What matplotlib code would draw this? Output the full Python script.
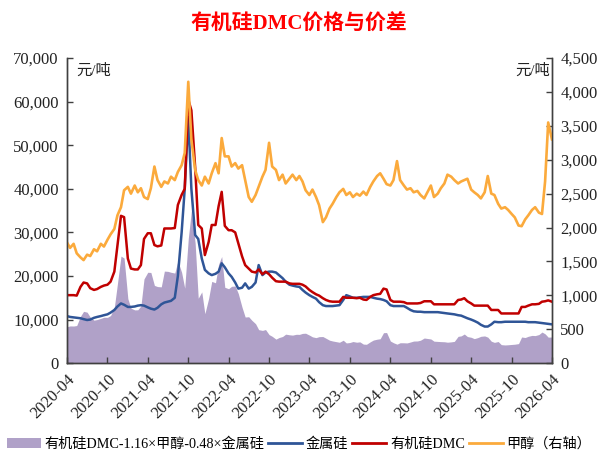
import matplotlib
matplotlib.use("Agg")
import matplotlib.pyplot as plt
import matplotlib.patches as mpatches
import matplotlib.lines as mlines
from matplotlib.ticker import MultipleLocator, FuncFormatter
import numpy as np
import pandas as pd

plt.rcParams['font.family'] = ['Liberation Serif', 'Noto Sans CJK SC']

# semi-monthly observations, 2020-04 .. 2026-04
dates = pd.date_range('2020-04-01', '2026-04-01', freq='SMS')

# 甲醇 (元/吨, right axis)
methanol = [
    1780, 1700, 1760, 1620, 1560, 1520, 1600, 1580, 1680, 1650, 1760, 1720,
    1820, 1900, 1980, 2180, 2300, 2550, 2600, 2500, 2620, 2520, 2580, 2450,
    2420, 2580, 2900, 2700, 2600, 2680, 2650, 2750, 2700, 2820, 2920, 3100,
    4150, 3300, 2850, 2700, 2620, 2750, 2650, 2800, 2950, 2800, 3320, 3050,
    3050, 2900, 2950, 2870, 2920, 2700, 2450, 2380, 2480, 2600, 2750, 2850,
    3250, 2900, 2850, 2700, 2780, 2650, 2720, 2780, 2700, 2760, 2680, 2550,
    2480, 2560, 2450, 2330, 2080, 2150, 2280, 2350, 2450, 2520, 2570, 2480,
    2520, 2450, 2500, 2470, 2530, 2480, 2600, 2680, 2760, 2800, 2720, 2640,
    2620, 2700, 2980, 2700, 2620, 2560, 2580, 2520, 2540, 2480, 2430, 2520,
    2620, 2450, 2500, 2580, 2650, 2780, 2750, 2700, 2650, 2680, 2700, 2720,
    2560, 2520, 2480, 2430, 2520, 2760, 2500, 2480, 2350, 2280, 2300, 2260,
    2200, 2150, 2030, 2020, 2120, 2180, 2260, 2300, 2220, 2200, 2680, 3550,
    3300,
]

# 有机硅DMC (元/吨)
dmc = [
    15600, 15600, 15600, 15500, 17500, 18500, 18300, 17200, 16800, 17000, 17500, 17800,
    18000, 18700, 21000, 27000, 33800, 33500, 24000, 21700, 21500, 21500, 22500, 28500,
    29800, 29800, 27100, 26800, 27000, 30900, 30900, 30900, 31000, 36300, 38600, 40000,
    60500, 58000, 45000, 31700, 30900, 24800, 27800, 31700, 31700, 36000, 39300, 31500,
    30500, 30500, 30000, 27500, 24500, 22500, 21700, 21000, 20800, 21500, 20400, 21000,
    20400, 19600, 18800, 18700, 18700, 18700, 18300, 18200, 18200, 18200, 18000, 17600,
    16800, 16300, 15800, 15500, 14900, 14500, 14200, 14100, 14100, 14100, 15200, 15000,
    15000, 15000, 14900, 15000, 14600, 14500, 15200, 15600, 15800, 15900, 17100, 16900,
    14500, 14100, 14100, 14100, 14000, 13700, 13700, 13700, 13700, 13800, 14200, 14200,
    14200, 13500, 13500, 13500, 13500, 13500, 13500, 13500, 14500, 14600, 14900, 14200,
    13700, 13200, 13200, 13200, 13200, 13200, 12200, 12200, 12200, 11400, 11400, 11400,
    11400, 11400, 11400, 12900, 12900, 13200, 13500, 13500, 13600, 14100, 14200, 14400,
    14100,
]

# 金属硅 (元/吨)
silicon = [
    10800, 10600, 10500, 10400, 10300, 10100, 9900, 10000, 10400, 10600, 10800, 11000,
    11200, 11600, 12200, 13000, 13700, 13400, 12900, 12900, 13000, 13200, 13300, 13200,
    12800, 12500, 12300, 12700, 13500, 13900, 14100, 14300, 15000, 20000, 30000, 40000,
    56500, 40000, 29400, 28500, 24000, 21400, 20600, 20200, 20500, 21000, 22900, 22000,
    20600, 19800, 18500, 17100, 17300, 18300, 17100, 17500, 18500, 22500, 20200, 20800,
    21000, 21000, 20800, 20200, 19500, 18700, 18000, 17800, 17600, 17500, 16800, 16200,
    15600, 15200, 14800, 14000, 13300, 13100, 13100, 13100, 13200, 13300, 14500, 15600,
    15300, 15000, 15000, 15100, 15200, 15200, 15200, 15000, 14800, 14700, 14500, 14200,
    13300, 13100, 13100, 13100, 13100, 12700, 12200, 11900, 11800, 11800, 11700, 11700,
    11700, 11700, 11700, 11600, 11500, 11400, 11300, 11200, 11000, 10900, 10600, 10300,
    10000, 9700, 9300, 8800, 8400, 8400, 8900, 9500, 9400, 9400, 9500, 9500,
    9500, 9500, 9500, 9500, 9500, 9400, 9400, 9400, 9300, 9200, 9100, 9000,
    8900,
]

methanol = np.array(methanol, dtype=float)
dmc = np.array(dmc, dtype=float)
silicon = np.array(silicon, dtype=float)
spread = dmc - 1.16 * methanol - 0.48 * silicon

xtick_dates = pd.date_range('2020-04-01', '2026-04-01', freq='6MS')

c_area = '#B0A1C8'
c_si = '#2F5597'
c_dmc = '#C00000'
c_meoh = '#FBAA3C'
c_spine = '#404040'

fig = plt.figure(figsize=(5.98, 4.5), dpi=100)
ax = fig.add_axes([0.112, 0.193, 0.811, 0.678])

ax.fill_between(dates, spread, 0, color=c_area, lw=0, zorder=1)
ax.plot(dates, silicon, color=c_si, lw=1.8, zorder=3)
ax.plot(dates, dmc, color=c_dmc, lw=1.8, zorder=4)

ax2 = ax.twinx()
ax2.plot(dates, methanol, color=c_meoh, lw=1.9)

ax.set_xlim(dates[0], dates[-1])
ax.set_ylim(0, 70000)
ax2.set_ylim(0, 4500)
ax.yaxis.set_major_locator(MultipleLocator(10000))
ax2.yaxis.set_major_locator(MultipleLocator(500))
fmt = FuncFormatter(lambda v, p: f'{v:,.0f}')
ax.yaxis.set_major_formatter(fmt)
ax2.yaxis.set_major_formatter(fmt)

ax.set_xticks(xtick_dates)
ax.set_xticklabels([d.strftime('%Y-%m') for d in xtick_dates],
                   rotation=45, ha='right', rotation_mode='anchor')

for a in (ax, ax2):
    a.spines['top'].set_visible(False)
    for s in ('left', 'right', 'bottom'):
        a.spines[s].set_color(c_spine)
        a.spines[s].set_linewidth(1.0)
    a.tick_params(direction='in', length=4, width=1, color=c_spine,
                  labelsize=12, labelcolor='#222222')
ax.tick_params(axis='x', pad=6)
ax.tick_params(axis='y', pad=6)
ax2.tick_params(axis='y', pad=6)

ax.text(0.019, 0.96, '元/吨', transform=ax.transAxes, fontsize=11,
        ha='left', va='center', color='#222222')
ax2.text(0.996, 0.96, '元/吨', transform=ax.transAxes, fontsize=11,
         ha='right', va='center', color='#222222')

fig.text(0.5, 0.945, '有机硅DMC价格与价差', color='#FF0000', fontsize=15,
         fontweight='bold', ha='center', va='center')

handles = [
    mpatches.Patch(color=c_area, lw=0),
    mlines.Line2D([], [], color=c_si, lw=2),
    mlines.Line2D([], [], color=c_dmc, lw=2),
    mlines.Line2D([], [], color=c_meoh, lw=2),
]
labels = ['有机硅DMC-1.16×甲醇-0.48×金属硅', '金属硅', '有机硅DMC', '甲醇（右轴）']
fig.legend(handles, labels, loc='lower center', bbox_to_anchor=(0.5, -0.03),
           ncol=4, frameon=False, fontsize=10.2, handlelength=2.4,
           handletextpad=0.25, columnspacing=0.3)

fig.savefig('out.png', dpi=100)
